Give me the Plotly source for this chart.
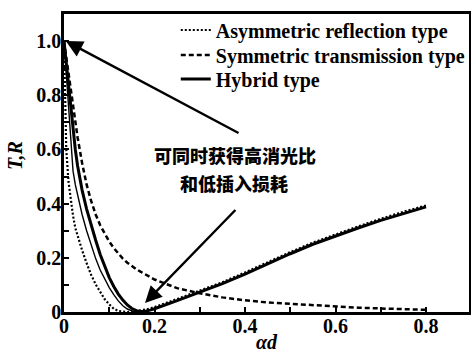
import plotly.graph_objects as go

# ---- data ----
alpha_d = [0, 0.005, 0.01, 0.015, 0.02, 0.025, 0.03, 0.04, 0.05, 0.06, 0.07, 0.08, 0.09,
           0.10, 0.11, 0.12, 0.13, 0.14, 0.15, 0.16, 0.17, 0.18, 0.19, 0.20, 0.25, 0.30,
           0.35, 0.40, 0.45, 0.50, 0.55, 0.60, 0.65, 0.70, 0.75, 0.80]

asym_reflection = [1.0, 0.60, 0.48, 0.41, 0.355, 0.31, 0.28, 0.228, 0.18, 0.137, 0.102, 0.073,
                   0.047, 0.028, 0.012, 0.004, 0.001, 0.0, 0.001, 0.003, 0.006, 0.009, 0.013,
                   0.018, 0.048, 0.079, 0.11, 0.146, 0.184, 0.221, 0.256, 0.287, 0.316, 0.344,
                   0.37, 0.393]

sym_transmission = [1.0, 0.94, 0.88, 0.82, 0.76, 0.70, 0.645, 0.55, 0.47, 0.41, 0.36, 0.32,
                    0.287, 0.26, 0.236, 0.215, 0.197, 0.182, 0.169, 0.158, 0.148, 0.138, 0.129,
                    0.12, 0.088, 0.069, 0.054, 0.043, 0.035, 0.030, 0.025, 0.020, 0.016, 0.013,
                    0.010, 0.008]

hybrid = [1.0, 0.92, 0.83, 0.74, 0.665, 0.60, 0.54, 0.45, 0.38, 0.32, 0.265, 0.212, 0.166,
          0.127, 0.094, 0.066, 0.044, 0.026, 0.013, 0.005, 0.002, 0.003, 0.007, 0.012, 0.042,
          0.073, 0.105, 0.14, 0.178, 0.215, 0.25, 0.281, 0.31, 0.338, 0.364, 0.388]

thin_curve = [1.0, 0.88, 0.76, 0.62, 0.52, 0.47, 0.43, 0.36, 0.30, 0.245, 0.197, 0.155, 0.12,
              0.09, 0.064, 0.041, 0.023, 0.011, 0.004, 0.001, 0.002, 0.004, 0.007, 0.011, 0.042,
              0.073, 0.105, 0.14, 0.178, 0.215, 0.25, 0.281, 0.31, 0.338, 0.364, 0.388]

x_tickvals = [0, 0.2, 0.4, 0.6, 0.8]
x_ticktext = ["0", "0.2", "0.4", "0.6", "0.8"]
x_minor = [0.1, 0.3, 0.5, 0.7]
y_tickvals = [0, 0.2, 0.4, 0.6, 0.8, 1.0]
y_ticktext = ["0", "0.2", "0.4", "0.6", "0.8", "1.0"]
y_minor = [0.1, 0.3, 0.5, 0.7, 0.9]

names = ["Asymmetric reflection type", "Symmetric transmission type", "Hybrid type"]
note_line1 = "可同时获得高消光比"
note_line2 = "和低插入损耗"

SERIF = "Liberation Serif"
CJK = "Noto Sans CJK SC"

fig = go.Figure()
fig.add_trace(go.Scatter(x=alpha_d, y=thin_curve, mode="lines", showlegend=False,
                         line=dict(color="black", width=1.4)))
fig.add_trace(go.Scatter(x=alpha_d, y=asym_reflection, mode="lines", name=names[0],
                         legend="legend", line=dict(color="black", width=2.2, dash="2px,2px")))
fig.add_trace(go.Scatter(x=alpha_d, y=sym_transmission, mode="lines", name=names[1],
                         legend="legend2", line=dict(color="black", width=2.5, dash="5px,3px")))
fig.add_trace(go.Scatter(x=alpha_d, y=hybrid, mode="lines", name=names[2],
                         legend="legend3", line=dict(color="black", width=3)))

axis_common = dict(showline=True, linecolor="black", linewidth=2.5, mirror=True,
                   ticks="inside", ticklen=5, tickwidth=2, tickcolor="black",
                   showgrid=False, zeroline=False,
                   tickfont=dict(family=SERIF, size=20, color="black", weight="bold"))

legend_font = dict(family=SERIF, size=20, color="black", weight="bold")
def legend_at(ypx):
    return dict(x=0.276, y=(312 - ypx) / 298, xanchor="left", yanchor="middle",
                bgcolor="rgba(0,0,0,0)", borderwidth=0, font=legend_font)

fig.update_layout(
    width=471, height=355,
    margin=dict(l=64, r=2, t=14, b=43, autoexpand=False),
    paper_bgcolor="white", plot_bgcolor="white",
    xaxis=dict(range=[0, 0.895], tickmode="array", tickvals=x_tickvals, ticktext=x_ticktext,
               minor=dict(tickmode="array", tickvals=x_minor, ticks="inside", ticklen=5,
                          tickwidth=2, tickcolor="black"),
               ticklabelstandoff=-6, automargin=False,
               **axis_common),
    yaxis=dict(range=[0, 1.1], tickmode="array", tickvals=y_tickvals, ticktext=y_ticktext,
               minor=dict(tickmode="array", tickvals=y_minor, ticks="inside", ticklen=5,
                          tickwidth=2, tickcolor="black"),
               ticklabelstandoff=-4, automargin=False,
               **axis_common),
    legend=legend_at(30),
    legend2=legend_at(55),
    legend3=legend_at(79),
    showlegend=True,
)

fig.add_annotation(xref="paper", yref="paper", x=0.5, y=(312 - 342) / 298, text="<i>αd</i>",
                   showarrow=False, xanchor="center", yanchor="middle",
                   font=dict(family=SERIF, size=20, color="black", weight="bold"))
fig.add_annotation(xref="paper", yref="paper", x=-0.121, y=0.527, text="<i>T,R</i>",
                   showarrow=False, xanchor="center", yanchor="middle", textangle=-90,
                   font=dict(family=SERIF, size=20, color="black", weight="bold"))

fig.add_annotation(x=0.378, y=0.579, xref="x", yref="y", text=note_line1, showarrow=False,
                   font=dict(family=CJK, size=18, color="black", weight=900))
fig.add_annotation(x=0.376, y=0.478, xref="x", yref="y", text=note_line2, showarrow=False,
                   font=dict(family=CJK, size=18, color="black", weight=900))

fig.add_annotation(x=0.004, y=1.0, ax=0.389, ay=0.658, xref="x", yref="y", axref="x", ayref="y",
                   text="", showarrow=True, arrowhead=2, arrowsize=1.4, arrowwidth=2.4,
                   arrowcolor="black")
fig.add_annotation(x=0.179, y=0.033, ax=0.382, ay=0.382, xref="x", yref="y", axref="x", ayref="y",
                   text="", showarrow=True, arrowhead=2, arrowsize=1.4, arrowwidth=2.4,
                   arrowcolor="black")

fig.write_html("out.html")
